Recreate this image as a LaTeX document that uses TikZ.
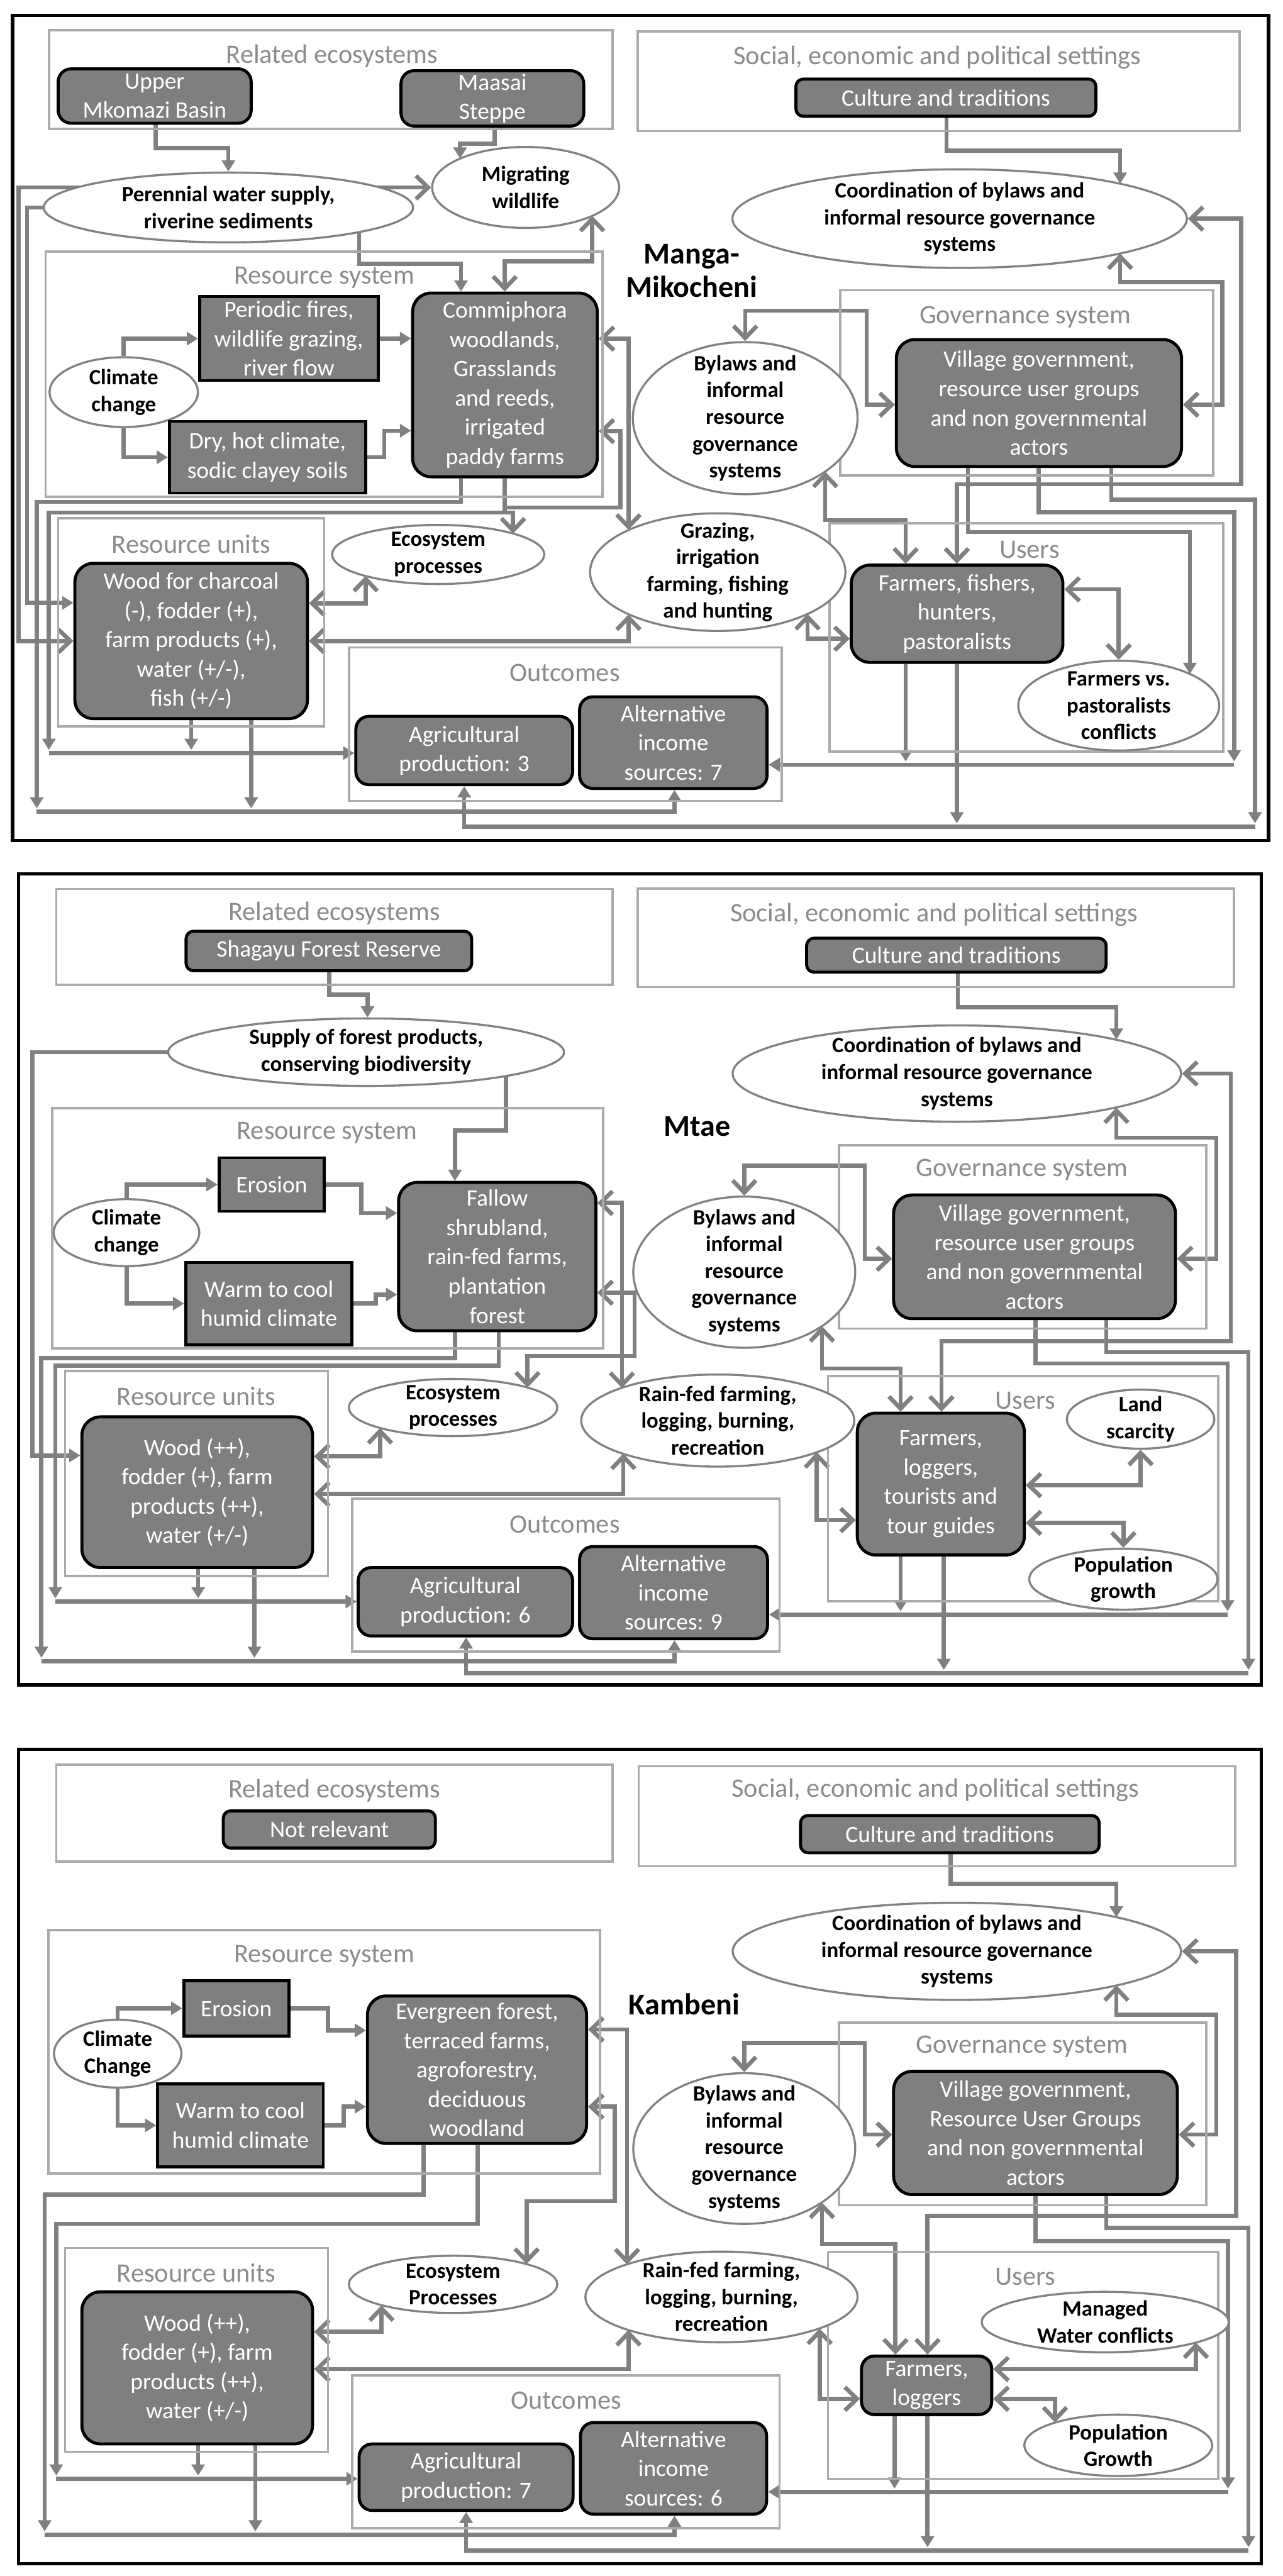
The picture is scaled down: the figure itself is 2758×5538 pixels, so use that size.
\documentclass[tikz,border=0pt]{standalone}
\usepackage{fontspec}
\setmainfont{Carlito}
\usetikzlibrary{arrows.meta,shapes.geometric}
\definecolor{cgray}{RGB}{128,128,128}
\definecolor{frgray}{RGB}{170,170,170}
\definecolor{ttlgray}{RGB}{140,140,140}
\definecolor{ndfill}{RGB}{127,127,127}
\definecolor{elgray}{RGB}{130,130,130}
\newcommand\myNodeFont{\fontsize{14.4}{17.9}\selectfont}
\newcommand\myEllFont{\fontsize{13.4}{16.4}\selectfont\bfseries}
\newcommand\myTtlFont{\fontsize{16.3}{19}\selectfont}
\newcommand\myPlaceFont{\fontsize{18.5}{20.5}\selectfont\bfseries}
\pgfdeclarelayer{bg}
\pgfsetlayers{bg,main}
\newcommand\mybx[7]{\node[#1, minimum width={(#5-#3)*0.1mm}, minimum height={(#6-#4)*0.1mm}] (#2) at ({(#3+#5)/2},{(#4+#6)/2}) {#7};}
\newcommand\myel[6]{\node[ell, minimum width={#4*0.1mm}, minimum height={#5*0.1mm}] (#1) at (#2,#3) {}; \node[etext] (#1-t) at (#1) {#6};}
\tikzset{
 TT/.tip={Triangle[length=2.4mm,width=2.8mm]},
 BB/.tip={Straight Barb[length=2.6mm,width=5mm]},
 frbox/.style={draw=frgray, line width=0.5mm, inner sep=0},
 ttl/.style={text=ttlgray, font=\myTtlFont, inner sep=0},
 dnode/.style={draw=black, line width=0.65mm, fill=ndfill, rounded corners=4mm, text=white, align=center, font=\myNodeFont, inner sep=0},
 mnode/.style={dnode, rounded corners=2.8mm},
 snode/.style={dnode, rounded corners=1.6mm},
 rnode/.style={dnode, sharp corners},
 ell/.style={ellipse, draw=elgray, line width=0.45mm, fill=white, inner sep=0},
 etext/.style={align=center, font=\myEllFont, inner sep=0, text=black},
 conn/.style={draw=cgray, line width=0.9mm},
 a1/.style={conn, -TT},
 a2/.style={conn, -BB},
 a22/.style={conn, BB-BB},
 outerbox/.style={draw=black, line width=0.7mm},
 placelbl/.style={font=\myPlaceFont, inner sep=0, align=center},
}
\begin{document}
\begin{tikzpicture}[x=0.1mm,y=-0.1mm]
\useasboundingbox (0,0) rectangle (2758,5538);
\begin{pgfonlayer}{bg}
\fill[white] (0,0) rectangle (2758,5538);
\end{pgfonlayer}

% ================= PANEL 1 =================
\draw[outerbox] (27,33) rectangle (2727,1807);
\mybx{frbox}{afr1}{105}{65}{1317}{277}{}
\mybx{frbox}{afr2}{1371}{68}{2665}{282}{}
\mybx{frbox}{afr3}{98}{541}{1295}{1068}{}
\mybx{frbox}{afr4}{1806}{624}{2608}{1022}{}
\mybx{frbox}{afr5}{125}{1114}{697}{1562}{}
\mybx{frbox}{afr6}{1783}{1125}{2630}{1616}{}
\mybx{frbox}{afr7}{750}{1392}{1681}{1722}{}
\node[ttl] (at1) at (714,121) {Related ecosystems};
\node[ttl] (at2) at (2015,124) {Social, economic and political settings};
\node[ttl] (at3) at (697,597) {Resource system};
\node[ttl] (at4) at (2204,682) {Governance system};
\node[ttl] (at5) at (411,1170) {Resource units};
\node[ttl] (at6) at (2213,1182) {Users};
\node[ttl] (at7) at (1214,1446) {Outcomes};

\mybx{mnode}{aum}{125}{148}{540}{265}{Upper\\Mkomazi Basin}
\mybx{mnode}{ams}{862}{152}{1255}{271}{Maasai\\Steppe}
\myel{aper}{491}{446}{794}{150}{Perennial water supply,\\riverine sediments}
\myel{amig}{1130}{403}{402}{174}{Migrating\\wildlife}
\mybx{rnode}{apf}{429}{638}{813}{818}{Periodic fires,\\wildlife grazing,\\river flow}
\myel{acc}{266}{843}{319}{150}{Climate\\change}
\mybx{rnode}{adh}{364}{906}{786}{1060}{Dry, hot climate,\\sodic clayey soils}
\mybx{dnode}{acom}{887}{630}{1284}{1025}{Commiphora\\woodlands,\\Grasslands\\and reeds,\\irrigated\\paddy farms}
\mybx{dnode}{awd}{161}{1211}{661}{1545}{Wood for charcoal\\(-), fodder (+),\\farm products (+),\\water (+/-),\\fish (+/-)}
\myel{aeco}{942}{1192}{456}{127}{Ecosystem\\processes}
\mybx{mnode}{aag}{765}{1540}{1231}{1687}{Agricultural\\production: 3}
\mybx{mnode}{aalt}{1246}{1498}{1649}{1695}{Alternative\\income\\sources: 7}
\mybx{snode}{acul}{1711}{170}{2356}{250}{Culture and traditions}
\myel{acoo}{2063}{470}{977}{212}{Coordination of bylaws and\\informal resource governance\\systems}
\node[placelbl] (aname) at (1487,582) {Manga-\\Mikocheni};
\myel{aby}{1602}{899}{483}{327}{Bylaws and\\informal\\resource\\governance\\systems}
\mybx{dnode}{avg}{1927}{730}{2540}{1003}{Village government,\\resource user groups\\and non governmental\\actors}
\myel{agr}{1543}{1230}{549}{253}{Grazing,\\irrigation\\farming, fishing\\and hunting}
\mybx{dnode}{afa}{1830}{1215}{2285}{1424}{Farmers, fishers,\\hunters,\\pastoralists}
\myel{afv}{2405}{1517}{432}{193}{Farmers vs.\\pastoralists\\conflicts}

\begin{pgfonlayer}{bg}
\draw[a1] (aum.south -| 335,0) |- (491,318) -- (aper.north);
\draw[a1] (ams.south -| 1063,0) |- (989,309) -- (989,341);
\draw[a22] (awd.west |- 0,1378) -| (40,403) -- (amig.west);
\draw[a1] (aper.west) -| (58,1296) -- (awd.west |- 0,1296);
\draw[a1] (772,499) |- (991,567) -- (acom.north -| 991,0);
\draw[a22] (1273,464) |- (1085,562) -- (acom.north -| 1085,0);
\draw[a1] (acc.north) |- (apf.west);
\draw[a1] (apf.east) -- (acom.west |- apf.east);
\draw[a1] (acc.south) |- (adh.west);
\draw[a1] (adh.east) -| (826,926) -- (acom.west |- 0,926);
\draw[a22] (acom.east |- 0,728) -| (1351,1139);
\draw[a2] (1085,1091) -| (1334,927) -- (acom.east |- 0,927);
\draw[a1] (acom.south -| 1085,0) -- (1085,1102) -| (105,1612);
\draw[a2] (1085,1102) -| (1103,1147);
\draw[a1] (acom.south -| 991,0) |- (79,1079) -- (79,1738);
\draw[a22] (awd.east |- 0,1297) -| (786,1238);
\draw[a22] (awd.east |- 0,1378) -| (1351,1321);
\draw[a1] (awd.south -| 411,0) -- (411,1612);
\draw[a1] (awd.south -| 540,0) -- (540,1738);
\draw[a1] (105,1619) -- (aag.west |- 0,1619);
\draw[a1] (79,1745) -| (aalt.south -| 1450,0);
\draw[a1] (2698,1777) -| (aag.south -| 998,0);
\draw[a1] (2653,1644) -- (aalt.east |- 0,1644);
\draw[a1] (acul.south -| 2035,0) |- (2408,324) -- (2408,395);
\draw[a22] (2408,545) |- (2628,606) |- (avg.east |- 0,870);
\draw[a22] (acoo.east) -| (2668,1041) -| (afa.north -| 2057,0);
\draw[a22] (aby.north) |- (1863,668) |- (avg.west |- 0,870);
\draw[a22] (1774,1014) |- (1947,1118) -- (afa.north -| 1947,0);
\draw[a22] (1736,1320) |- (afa.west |- 0,1373);
\draw[a22] (afa.east |- 0,1267) -| (afv.north);
\draw[a1] (avg.south -| 2081,0) |- (2558,1144) -- (2558,1449);
\draw[a1] (avg.south -| 2233,0) |- (2653,1101) -- (2653,1637);
\draw[a1] (avg.south -| 2389,0) |- (2698,1074) -- (2698,1770);
\draw[a1] (afa.south -| 1947,0) -- (1947,1637);
\draw[a1] (afa.south -| 2057,0) -- (2057,1770);
\end{pgfonlayer}

% ================= PANEL 2 =================
\draw[outerbox] (40,1879) rectangle (2712,3622);
\mybx{frbox}{bfr1}{121}{1911}{1317}{2117}{}
\mybx{frbox}{bfr2}{1371}{1910}{2653}{2122}{}
\mybx{frbox}{bfr3}{112}{2382}{1297}{2899}{}
\mybx{frbox}{bfr4}{1804}{2462}{2593}{2856}{}
\mybx{frbox}{bfr5}{140}{2947}{705}{3388}{}
\mybx{frbox}{bfr6}{1780}{2958}{2619}{3442}{}
\mybx{frbox}{bfr7}{757}{3222}{1676}{3550}{}
\node[ttl] (bt1) at (719,1964) {Related ecosystems};
\node[ttl] (bt2) at (2008,1967) {Social, economic and political settings};
\node[ttl] (bt3) at (703,2435) {Resource system};
\node[ttl] (bt4) at (2197,2515) {Governance system};
\node[ttl] (bt5) at (422,3001) {Resource units};
\node[ttl] (bt6) at (2204,3011) {Users};
\node[ttl] (bt7) at (1214,3277) {Outcomes};

\mybx{snode}{bsh}{400}{2002}{1014}{2087}{Shagayu Forest Reserve}
\myel{bsup}{787}{2262}{851}{145}{Supply of forest products,\\conserving biodiversity}
\mybx{rnode}{ber}{471}{2489}{697}{2604}{Erosion}
\myel{bcc}{272}{2650}{313}{144}{Climate\\change}
\mybx{rnode}{bwc}{399}{2714}{757}{2891}{Warm to cool\\humid climate}
\mybx{dnode}{bfa}{857}{2542}{1281}{2861}{Fallow\\shrubland,\\rain-fed farms,\\plantation\\forest}
\mybx{dnode}{bwd}{176}{3046}{672}{3370}{Wood (++),\\fodder (+), farm\\products (++),\\water (+/-)}
\myel{beco}{974}{3026}{448}{123}{Ecosystem\\processes}
\mybx{mnode}{bag}{770}{3370}{1231}{3517}{Agricultural\\production: 6}
\mybx{mnode}{balt}{1246}{3325}{1650}{3523}{Alternative\\income\\sources: 9}
\mybx{snode}{bcul}{1734}{2017}{2378}{2090}{Culture and traditions}
\myel{bcoo}{2057}{2308}{964}{207}{Coordination of bylaws and\\informal resource governance\\systems}
\node[placelbl] (bname) at (1499,2422) {Mtae};
\myel{bby}{1600}{2735}{477}{325}{Bylaws and\\informal\\resource\\governance\\systems}
\mybx{dnode}{bvg}{1921}{2569}{2527}{2835}{Village government,\\resource user groups\\and non governmental\\actors}
\myel{brf}{1543}{3054}{587}{198}{Rain-fed farming,\\logging, burning,\\recreation}
\mybx{dnode}{bfr}{1843}{3038}{2202}{3343}{Farmers,\\loggers,\\tourists and\\tour guides}
\myel{bls}{2452}{3051}{317}{127}{Land\\scarcity}
\myel{bpg}{2415}{3395}{405}{131}{Population\\growth}

\begin{pgfonlayer}{bg}
\draw[a1] (bsh.south -| 708,0) |- (790,2138) -- (bsup.north -| 790,0);
\draw[a1] (bsup.west) -| (70,3129) -- (bwd.west |- 0,3129);
\draw[a1] (1088,2313) |- (978,2430) -- (bfa.north -| 978,0);
\draw[a1] (bcc.north) |- (ber.west);
\draw[a1] (ber.east) -| (777,2608) -- (bfa.west |- 0,2608);
\draw[a1] (bcc.south) |- (bwc.west);
\draw[a1] (bwc.east) -| (808,2783) -- (bfa.west |- 0,2783);
\draw[a22] (bfa.east |- 0,2586) -| (1337,2984);
\draw[a22] (bfa.east |- 0,2779) -| (1364,2915) -| (1134,2983);
\draw[a1] (bfa.south -| 978,0) |- (89,2920) -- (89,3564);
\draw[a1] (bfa.south -| 1072,0) |- (119,2936) -- (119,3436);
\draw[a22] (bwd.east |- 0,3131) -| (817,3070);
\draw[a22] (bwd.east |- 0,3212) -| (1340,3125);
\draw[a1] (bwd.south -| 426,0) -- (426,3436);
\draw[a1] (bwd.south -| 547,0) -- (547,3564);
\draw[a1] (119,3443) -- (bag.west |- 0,3443);
\draw[a1] (89,3571) -| (balt.south -| 1450,0);
\draw[a1] (2684,3597) -| (bag.south -| 1002,0);
\draw[a1] (2639,3471) -- (balt.east |- 0,3471);
\draw[a1] (bcul.south -| 2059,0) |- (2400,2165) -- (2400,2235);
\draw[a22] (2400,2381) |- (2615,2446) |- (bvg.east |- 0,2706);
\draw[a22] (bcoo.east) -| (2646,2883) -| (bfr.north -| 2024,0);
\draw[a22] (bby.north) |- (1859,2506) |- (bvg.west |- 0,2706);
\draw[a22] (1767,2851) |- (1936,2942) -- (bfr.north -| 1936,0);
\draw[a22] (1756,3122) |- (bfr.west |- 0,3268);
\draw[a22] (bfr.east |- 0,3193) -| (bls.south);
\draw[a22] (bfr.east |- 0,3274) -| (bpg.north);
\draw[a1] (bvg.south -| 2226,0) |- (2639,2931) -- (2639,3464);
\draw[a1] (bvg.south -| 2378,0) |- (2684,2907) -- (2684,3590);
\draw[a1] (bfr.south -| 1936,0) -- (1936,3464);
\draw[a1] (bfr.south -| 2029,0) -- (2029,3590);
\end{pgfonlayer}

% ================= PANEL 3 =================
\draw[outerbox] (40,3761) rectangle (2712,5512);
\mybx{frbox}{cfr1}{121}{3794}{1317}{4002}{}
\mybx{frbox}{cfr2}{1373}{3797}{2655}{4012}{}
\mybx{frbox}{cfr3}{104}{4149}{1290}{4673}{}
\mybx{frbox}{cfr4}{1804}{4348}{2593}{4741}{}
\mybx{frbox}{cfr5}{140}{4833}{705}{5271}{}
\mybx{frbox}{cfr6}{1780}{4841}{2619}{5329}{}
\mybx{frbox}{cfr7}{757}{5107}{1676}{5435}{}
\node[ttl] (ct1) at (719,3849) {Related ecosystems};
\node[ttl] (ct2) at (2011,3849) {Social, economic and political settings};
\node[ttl] (ct3) at (697,4205) {Resource system};
\node[ttl] (ct4) at (2197,4400) {Governance system};
\node[ttl] (ct5) at (422,4887) {Resource units};
\node[ttl] (ct6) at (2204,4895) {Users};
\node[ttl] (ct7) at (1217,5160) {Outcomes};

\mybx{snode}{cnr}{480}{3893}{936}{3973}{Not relevant}
\mybx{snode}{ccul}{1721}{3903}{2363}{3983}{Culture and traditions}
\mybx{rnode}{cer}{395}{4258}{621}{4377}{Erosion}
\myel{ccc}{253}{4415}{274}{146}{Climate\\Change}
\mybx{rnode}{cwc}{339}{4480}{695}{4658}{Warm to cool\\humid climate}
\mybx{dnode}{cev}{790}{4291}{1261}{4608}{Evergreen forest,\\terraced farms,\\agroforestry,\\deciduous\\woodland}
\mybx{dnode}{cwd}{176}{4927}{672}{5254}{Wood (++),\\fodder (+), farm\\products (++),\\water (+/-)}
\myel{ceco}{974}{4911}{448}{123}{Ecosystem\\Processes}
\mybx{mnode}{cag}{772}{5254}{1232}{5397}{Agricultural\\production: 7}
\mybx{mnode}{calt}{1248}{5208}{1648}{5405}{Alternative\\income\\sources: 6}
\myel{ccoo}{2057}{4195}{964}{209}{Coordination of bylaws and\\informal resource governance\\systems}
\node[placelbl] (cname) at (1471,4308) {Kambeni};
\myel{cby}{1600}{4619}{477}{324}{Bylaws and\\informal\\resource\\governance\\systems}
\mybx{dnode}{cvg}{1921}{4453}{2531}{4718}{Village government,\\Resource User Groups\\and non governmental\\actors}
\myel{crf}{1551}{4938}{585}{195}{Rain-fed farming,\\logging, burning,\\recreation}
\mybx{mnode}{cfl}{1852}{5065}{2132}{5191}{Farmers,\\loggers}
\myel{cmw}{2376}{4992}{531}{130}{Managed\\Water conflicts}
\myel{cpg}{2404}{5257}{404}{132}{Population\\Growth}

\begin{pgfonlayer}{bg}
\draw[a1] (ccc.north) |- (cer.west);
\draw[a1] (cer.east) -| (705,4365) -- (cev.west |- 0,4365);
\draw[a1] (ccc.south) |- (cwc.west);
\draw[a1] (cwc.east) -| (739,4529) -- (cev.west |- 0,4529);
\draw[a22] (cev.east |- 0,4363) -| (1348,4868);
\draw[a22] (cev.east |- 0,4529) -| (1322,4732) -| (1132,4867);
\draw[a1] (cev.south -| 911,0) |- (96,4718) -- (96,5442);
\draw[a1] (cev.south -| 1027,0) |- (121,4781) -- (121,5322);
\draw[a22] (cwd.east |- 0,5013) -| (820,4956);
\draw[a22] (cwd.east |- 0,5093) -| (1351,5009);
\draw[a1] (cwd.south -| 426,0) -- (426,5322);
\draw[a1] (cwd.south -| 549,0) -- (549,5442);
\draw[a1] (121,5329) -- (cag.west |- 0,5329);
\draw[a1] (96,5449) -| (calt.south -| 1450,0);
\draw[a1] (2684,5483) -| (cag.south -| 1002,0);
\draw[a1] (2640,5357) -- (calt.east |- 0,5357);
\draw[a1] (ccul.south -| 2044,0) |- (2400,4050) -- (2400,4122);
\draw[a22] (2400,4268) |- (2615,4331) |- (cvg.east |- 0,4589);
\draw[a22] (ccoo.east) -| (2657,4764) -| (cfl.north -| 1994,0);
\draw[a22] (cby.north) |- (1859,4392) |- (cvg.west |- 0,4589);
\draw[a22] (1767,4735) |- (1925,4824) -- (cfl.north -| 1925,0);
\draw[a22] (1762,5006) |- (cfl.west |- 0,5157);
\draw[a22] (cfl.east |- 0,5093) -| (2571,5036);
\draw[a22] (cfl.east |- 0,5157) -| (2268,5208);
\draw[a1] (cvg.south -| 2226,0) |- (2640,4818) -- (2640,5350);
\draw[a1] (cvg.south -| 2378,0) |- (2684,4790) -- (2684,5476);
\draw[a1] (cfl.south -| 1923,0) -- (1923,5350);
\draw[a1] (cfl.south -| 1994,0) -- (1994,5476);
\end{pgfonlayer}
\end{tikzpicture}
\end{document}
